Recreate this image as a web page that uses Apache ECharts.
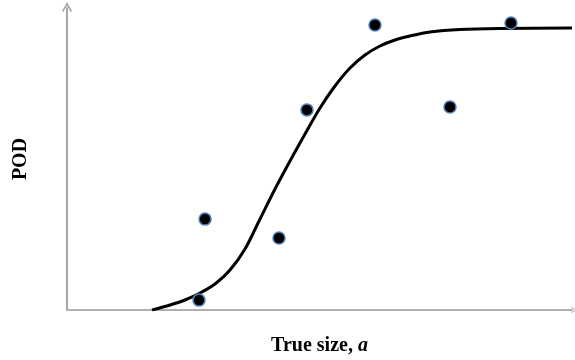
<!DOCTYPE html>
<html>
<head>
<meta charset="utf-8">
<script src="https://cdn.jsdelivr.net/npm/echarts@6/dist/echarts.min.js"></script>
<style>html,body{margin:0;padding:0;background:#fff}#c{width:575px;height:360px}</style>
</head>
<body>
<div id="c"></div>
<script>
// Observed data points (true size, POD)
const pointX = [26.14, 27.33, 41.98, 47.52, 60.99, 75.84, 87.92];
const pointY = [0.035, 0.322, 0.255, 0.709, 1.010, 0.719, 1.017];
// Fitted POD curve
const curveX = [16.83, 20.40, 23.37, 26.34, 29.31, 32.28, 35.25, 38.22, 41.19, 44.16, 47.13, 50.10, 53.07, 56.04, 59.01, 61.98, 64.95, 67.92, 71.88, 77.82, 85.74, 100];
const curveY = [0, 0.0177, 0.0354, 0.0602, 0.0921, 0.1417, 0.2161, 0.3224, 0.4287, 0.5279, 0.6236, 0.7157, 0.7936, 0.8574, 0.9035, 0.9354, 0.9566, 0.9708, 0.9850, 0.9938, 0.9973, 0.9991];
const xTitle = 'True size, ';
const xTitleItalic = 'a';
const yTitle = 'POD';

const chevron = 'path://M0,9 L5,0 L10,9 L8.6,10 L5,3.2 L1.4,10 Z';
const chart = echarts.init(document.getElementById('c'), null, {renderer: 'canvas'});
chart.setOption({
  animation: false,
  backgroundColor: '#fff',
  grid: {left: 67, right: 3, top: 8, bottom: 50, outerBoundsMode: 'none', containLabel: false},
  xAxis: {
    type: 'value', min: 0, max: 100,
    name: '{b|' + xTitle + '}{i|' + xTitleItalic + '}',
    nameLocation: 'middle', nameGap: 26,
    nameTextStyle: {
      rich: {
        b: {fontFamily: 'Liberation Serif', fontWeight: 'bold', fontSize: 20, color: '#000'},
        i: {fontFamily: 'Liberation Serif', fontWeight: 'bold', fontStyle: 'italic', fontSize: 20, color: '#000'}
      }
    },
    axisLine: {lineStyle: {color: '#b0b0b0', width: 2}, symbol: ['none', chevron], symbolSize: [8, 6], symbolOffset: [0, 2]},
    axisTick: {show: false}, axisLabel: {show: false}, splitLine: {show: false}
  },
  yAxis: {
    type: 'value', min: 0, max: 1.07,
    name: yTitle, nameLocation: 'middle', nameGap: 36, nameRotate: 90,
    nameTextStyle: {fontFamily: 'Liberation Serif', fontWeight: 'bold', fontSize: 20, color: '#000'},
    axisLine: {lineStyle: {color: '#a6a6a6', width: 2}, symbol: ['none', chevron], symbolSize: [14, 10], symbolOffset: [0, 1]},
    axisTick: {show: false}, axisLabel: {show: false}, splitLine: {show: false}
  },
  series: [
    {
      type: 'line', smooth: 0.3, symbol: 'none',
      data: curveX.map((x, i) => [x, curveY[i]]),
      lineStyle: {color: '#000', width: 3}, z: 2
    },
    {
      type: 'scatter', symbolSize: 12,
      data: pointX.map((x, i) => [x, pointY[i]]),
      itemStyle: {color: '#000', borderColor: '#4f81bd', borderWidth: 1.5, opacity: 1}, z: 3
    }
  ]
});
</script>
</body>
</html>
